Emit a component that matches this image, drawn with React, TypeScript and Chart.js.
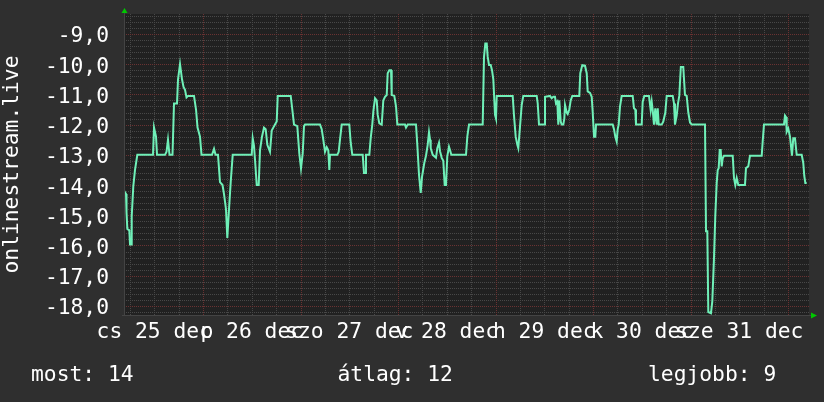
import { useEffect, useRef } from 'react';
import { Chart, registerables } from 'chart.js';

Chart.register(...registerables);

// hours since 25 Dec 00:00
const hours = [
  4.6, 5.05, 5.17, 5.37, 5.86, 6.03, 6.28, 6.45, 6.84, 7.26, 7.83, 11.69, 11.94, 12.43, 12.68, 14.65, 15.02, 15.38, 15.75, 16.49,
  16.86, 17.6, 17.85, 18.34, 18.58, 18.83, 19.2, 19.57, 19.94, 20.31, 21.78, 22.28, 22.65, 23.26, 23.63, 26.22, 26.71, 27.08, 27.69, 28.18,
  28.8, 29.17, 29.66, 29.98, 30.4, 30.82, 31.31, 35.99, 36.23, 36.55, 36.87, 37.22, 37.71, 38.03, 38.52, 39.01, 39.43, 39.83, 40.49, 40.91,
  41.3, 41.72, 42.14, 42.39, 45.59, 45.98, 46.4, 47.21, 47.7, 48.12, 48.54, 48.86, 49.11, 52.8, 53.22, 53.61, 54.03, 54.45, 54.84, 55.09,
  55.26, 57.06, 57.4, 57.72, 58.14, 60.01, 60.36, 60.75, 63.31, 63.63, 63.88, 64.12, 64.94, 65.28, 65.67, 65.92, 66.34, 66.76, 67.0, 67.4,
  67.99, 68.38, 68.8, 69.22, 69.46, 69.86, 70.28, 70.45, 71.09, 71.51, 71.83, 73.72, 73.97, 74.39, 76.43, 76.75, 77.17, 77.59, 77.91, 78.47,
  78.89, 79.31, 79.63, 79.88, 80.05, 80.54, 80.94, 81.35, 81.67, 82.09, 82.34, 82.76, 83.15, 83.49, 83.81, 84.13, 84.55, 84.8, 85.12, 88.74,
  89.06, 89.48, 92.85, 93.17, 93.49, 93.84, 94.08, 94.4, 94.82, 95.14, 95.46, 95.88, 96.12, 96.3, 100.23, 100.55, 100.97, 101.37, 101.61, 102.03,
  102.45, 102.84, 106.14, 106.39, 106.71, 107.94, 108.18, 109.41, 109.83, 110.23, 110.64, 110.89, 111.21, 111.46, 111.7, 112.05, 112.29, 112.69, 112.94, 113.11,
  113.52, 113.77, 114.16, 114.51, 114.9, 116.63, 116.87, 117.36, 118.03, 118.45, 118.69, 119.26, 119.68, 119.92, 120.25, 120.57, 120.74, 124.85, 125.17, 125.49,
  125.83, 126.08, 126.32, 126.65, 127.06, 129.77, 130.09, 130.41, 130.58, 131.99, 132.23, 132.63, 133.78, 134.2, 134.45, 134.7, 135.01, 135.33, 135.68, 135.93,
  136.17, 136.91, 137.3, 137.8, 138.14, 139.62, 139.94, 140.18, 140.6, 140.92, 141.24, 141.62, 142.22, 142.64, 143.06, 143.46, 143.88, 144.3, 147.57, 147.82,
  148.14, 148.38, 149.04, 149.37, 149.79, 150.1, 150.45, 150.7, 150.94, 151.19, 151.43, 151.68, 151.93, 152.25, 154.39, 154.71, 155.03, 155.37, 155.77, 157.41,
  157.66, 158.23, 158.64, 161.53, 161.77, 162.09, 167.01, 167.26, 167.51, 167.68, 168.07, 168.49, 168.98, 169.3, 169.72, 170.14, 171.37, 171.76, 172.01, 172.26,
  172.6,
];

const ranks = [
  -14.2, -14.3, -14.9, -15.45, -15.5, -15.97, -15.97, -15.03, -14.04, -13.5, -13.0, -13.0, -12.1, -12.4, -13.0, -13.0, -12.9, -12.5, -13.0, -13.0,
  -11.3, -11.3, -10.5, -10.0, -10.0, -10.5, -10.75, -10.85, -11.1, -11.05, -11.05, -11.5, -12.1, -12.4, -13.0, -13.0, -12.8, -13.0, -13.0, -13.9,
  -14.0, -14.3, -14.8, -15.75, -14.8, -13.9, -13.0, -13.0, -12.45, -12.7, -13.3, -14.0, -14.0, -12.85, -12.4, -12.1, -12.15, -12.67, -12.9, -12.2,
  -12.1, -12.0, -11.9, -11.05, -11.05, -11.5, -12.0, -12.05, -12.95, -13.45, -12.95, -12.05, -12.0, -12.0, -12.15, -12.5, -12.9, -12.75, -12.85, -13.5,
  -13.0, -13.0, -12.9, -12.5, -12.0, -12.0, -12.6, -13.0, -13.0, -13.6, -13.6, -13.0, -13.0, -12.45, -12.0, -11.57, -11.13, -11.2, -11.68, -11.96,
  -12.0, -11.2, -11.08, -11.02, -10.3, -10.2, -10.2, -11.02, -11.05, -11.4, -12.0, -12.0, -12.1, -12.0, -12.0, -12.67, -13.66, -14.26, -13.73, -13.27,
  -13.03, -12.67, -12.25, -12.5, -12.78, -13.0, -13.05, -13.1, -12.78, -12.6, -12.88, -13.1, -13.2, -14.0, -14.0, -13.05, -12.73, -12.84, -13.0, -13.0,
  -12.4, -12.0, -12.0, -9.76, -9.32, -9.32, -9.76, -10.03, -10.03, -10.2, -10.5, -11.68, -11.8, -11.05, -11.05, -11.7, -12.4, -12.67, -12.78, -12.07,
  -11.35, -11.05, -11.05, -11.3, -12.0, -12.0, -11.08, -11.05, -11.13, -11.08, -11.08, -11.3, -11.24, -12.0, -11.2, -11.9, -12.0, -12.0, -11.8, -11.35,
  -11.6, -11.65, -11.5, -11.2, -11.05, -11.05, -10.3, -10.03, -10.05, -10.3, -10.9, -10.95, -11.08, -11.57, -12.4, -12.4, -12.0, -12.0, -12.15, -12.4,
  -12.56, -12.15, -12.0, -11.4, -11.05, -11.05, -11.46, -11.5, -12.0, -12.0, -11.24, -11.05, -11.05, -11.52, -11.24, -11.52, -12.0, -11.46, -12.0, -11.46,
  -12.0, -12.0, -11.9, -11.6, -11.05, -11.05, -11.3, -12.0, -11.7, -11.3, -11.05, -10.09, -10.09, -11.02, -11.05, -11.6, -11.93, -12.0, -12.0, -15.53,
  -15.53, -18.2, -18.24, -17.84, -16.4, -15.03, -13.93, -13.5, -13.44, -12.84, -12.84, -13.38, -13.11, -13.03, -13.03, -13.77, -14.0, -13.77, -14.0, -14.0,
  -13.44, -13.38, -13.03, -13.03, -12.56, -12.0, -12.0, -11.7, -11.75, -12.24, -12.13, -12.4, -13.03, -12.45, -12.45, -13.0, -13.0, -13.27, -13.7, -13.93,
  -13.93,
];

const dayLabels = ['cs 25 dec', 'p 26 dec', 'szo 27 dec', 'v 28 dec', 'h 29 dec', 'k 30 dec', 'sze 31 dec'];
const dayLabelHours = [12, 36, 60, 84, 108, 132, 156];
const yTickValues = [-18, -17, -16, -15, -14, -13, -12, -11, -10, -9];
const legendLabels = ['most', 'átlag', 'legjobb'];
const legendValues = [14, 12, 9];
const axisTitle = 'onlinestream.live';

const X_MIN = 4.55;
const X_MAX = 173.17;
const Y_MIN = -18.3;
const Y_MAX = -8.34;

const FONT_FAMILY = '"DejaVu Sans Mono", monospace';
const FONT_SIZE = 21.3;
const FONT = `${FONT_SIZE}px ${FONT_FAMILY}`;

const rrdPlugin = {
  id: 'rrdStyle',
  beforeDraw(chart: any) {
    const { ctx, chartArea: a } = chart;
    ctx.save();
    ctx.fillStyle = '#212121';
    ctx.fillRect(a.left, a.top, a.right - a.left, a.bottom - a.top);
    ctx.restore();
  },
  beforeDatasetsDraw(chart: any) {
    const { ctx, chartArea: a, scales } = chart;
    const x = scales.x;
    const y = scales.y;
    ctx.save();
    ctx.lineWidth = 1;
    ctx.setLineDash([1, 1]);
    const drawH = (v: number, color: string) => {
      const py = Math.round(y.getPixelForValue(v)) + 0.5;
      ctx.strokeStyle = color;
      ctx.beginPath();
      ctx.moveTo(a.left, py);
      ctx.lineTo(a.right, py);
      ctx.stroke();
    };
    const drawV = (v: number, color: string) => {
      const px = Math.round(x.getPixelForValue(v)) + 0.5;
      ctx.strokeStyle = color;
      ctx.beginPath();
      ctx.moveTo(px, a.top);
      ctx.lineTo(px, a.bottom);
      ctx.stroke();
    };
    const grey = '#484848';
    const red = '#6a3232';
    for (let i = Math.ceil(Y_MIN * 5); i <= Math.floor(Y_MAX * 5); i++) {
      if (i % 5 !== 0) drawH(i / 5, grey);
    }
    for (let h = Math.ceil(X_MIN / 6) * 6; h <= X_MAX; h += 6) {
      if (h % 24 !== 0) drawV(h, grey);
    }
    for (let i = Math.ceil(Y_MIN); i <= Math.floor(Y_MAX); i++) drawH(i, red);
    for (let h = Math.ceil(X_MIN / 24) * 24; h <= X_MAX; h += 24) drawV(h, red);
    ctx.restore();
  },
  afterDraw(chart: any) {
    const { ctx, chartArea: a, scales } = chart;
    const x = scales.x;
    ctx.save();
    // axes
    ctx.strokeStyle = '#444444';
    ctx.lineWidth = 1;
    ctx.beginPath();
    ctx.moveTo(a.left + 0.5, a.bottom + 1);
    ctx.lineTo(a.left + 0.5, a.top - 2);
    ctx.moveTo(a.left - 2, a.bottom + 0.5);
    ctx.lineTo(a.right + 3, a.bottom + 0.5);
    ctx.stroke();
    // arrows
    ctx.fillStyle = '#00c800';
    ctx.beginPath();
    ctx.moveTo(a.left - 2.5, a.top - 1);
    ctx.lineTo(a.left + 3.5, a.top - 1);
    ctx.lineTo(a.left + 0.5, a.top - 6);
    ctx.closePath();
    ctx.fill();
    ctx.beginPath();
    ctx.moveTo(a.right + 2, a.bottom - 2.5);
    ctx.lineTo(a.right + 2, a.bottom + 3.5);
    ctx.lineTo(a.right + 8, a.bottom + 0.5);
    ctx.closePath();
    ctx.fill();
    // x labels
    ctx.font = FONT;
    ctx.fillStyle = '#ffffff';
    ctx.textAlign = 'center';
    ctx.textBaseline = 'alphabetic';
    dayLabels.forEach((lab, i) => {
      ctx.fillText(lab, x.getPixelForValue(dayLabelHours[i]), 338);
    });
    // legend
    ctx.textAlign = 'left';
    const legendX = [31, 337.5, 648];
    legendLabels.forEach((lab, i) => {
      ctx.fillText(`${lab}: ${legendValues[i]}`, legendX[i], 381);
    });
    ctx.restore();
  },
};

export default function App() {
  const ref = useRef<HTMLCanvasElement | null>(null);

  useEffect(() => {
    if (!ref.current) return;
    const chart = new Chart(ref.current, {
      type: 'line',
      data: {
        datasets: [
          {
            data: hours.map((h, i) => ({ x: h, y: ranks[i] })),
            borderColor: '#6ff0b8',
            borderWidth: 2,
            pointRadius: 0,
            tension: 0,
            fill: false,
          },
        ],
      },
      options: {
        animation: false,
        responsive: false,
        devicePixelRatio: 1,
        layout: { padding: { top: 14, right: 15, left: 0, bottom: 0 } },
        plugins: { legend: { display: false }, tooltip: { enabled: false } },
        scales: {
          x: {
            type: 'linear',
            min: X_MIN,
            max: X_MAX,
            grid: { display: false, drawTicks: false },
            border: { display: false },
            ticks: { display: false },
            afterFit: (s: any) => {
              s.height = 87;
              s.paddingLeft = 0;
              s.paddingRight = 0;
            },
          },
          y: {
            type: 'linear',
            min: Y_MIN,
            max: Y_MAX,
            grid: { display: false, drawTicks: false },
            border: { display: false },
            afterBuildTicks: (s: any) => {
              s.ticks = yTickValues.map((v) => ({ value: v }));
            },
            ticks: {
              autoSkip: false,
              padding: 15,
              labelOffset: 3,
              color: '#ffffff',
              font: { family: FONT_FAMILY, size: FONT_SIZE },
              callback: (v: any) => Number(v).toFixed(1).replace('.', ','),
            },
            title: {
              display: true,
              text: axisTitle,
              color: '#ffffff',
              font: { family: FONT_FAMILY, size: FONT_SIZE },
              padding: { top: 0, bottom: 0 },
            },
            afterFit: (s: any) => {
              s.width = 124;
              s.paddingTop = 0;
              s.paddingBottom = 0;
            },
          },
        },
      },
      plugins: [rrdPlugin],
    });
    return () => chart.destroy();
  }, []);

  return (
    <div style={{ position: 'absolute', left: 0, top: 0, width: 824, height: 402, background: '#2f2f2f' }}>
      <canvas ref={ref} width={824} height={402} style={{ display: 'block' }} />
    </div>
  );
}
